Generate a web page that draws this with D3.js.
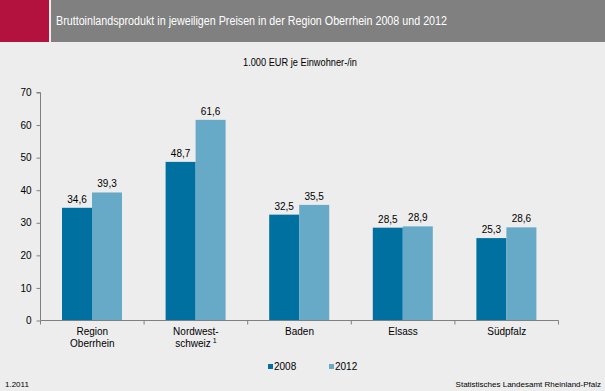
<!DOCTYPE html>
<html><head><meta charset="utf-8">
<script src="https://cdn.jsdelivr.net/npm/d3@7"></script>
<style>body{margin:0;background:#ededed;}svg{display:block;font-family:"Liberation Sans",Arial,sans-serif;}</style>
</head><body>
<svg id="c" width="605" height="391"></svg>
<script>
const categories = [["Region","Oberrhein"],["Nordwest-","schweiz"],["Baden"],["Elsass"],["Südpfalz"]];
const series = ["2008","2012"];
const values2008 = [34.6, 48.7, 32.5, 28.5, 25.3];
const values2012 = [39.3, 61.6, 35.5, 28.9, 28.6];
const yTicks = [0,10,20,30,40,50,60,70];
const colors = ["#0070a0","#66aac8"];

const svg = d3.select("#c");
svg.append("rect").attr("width",605).attr("height",391).attr("fill","#ededed");
// header
svg.append("rect").attr("x",0).attr("y",0).attr("width",605).attr("height",42).attr("fill","#808080");
svg.append("rect").attr("x",0).attr("y",0).attr("width",49).attr("height",42).attr("fill","#b4123e");
svg.append("rect").attr("x",49).attr("y",0).attr("width",2).attr("height",42).attr("fill","#ededed");
svg.append("text").attr("x",56).attr("y",25).attr("fill","#fff").attr("font-size",12)
  .attr("textLength",391).attr("lengthAdjust","spacingAndGlyphs")
  .text("Bruttoinlandsprodukt in jeweiligen Preisen in der Region Oberrhein 2008 und 2012");
svg.append("text").attr("x",243).attr("y",66).attr("fill","#000").attr("font-size",10)
  .attr("textLength",114).attr("lengthAdjust","spacingAndGlyphs")
  .text("1.000 EUR je Einwohner-/in");

const x0 = d3.scaleBand().domain(d3.range(categories.length)).range([40.5,558.5]).paddingInner(0).paddingOuter(0);
const x1 = d3.scaleBand().domain(series).range([21.5, 81.5]);
const y = d3.scaleLinear().domain([0,70]).range([320.5,92.5]);

const data = categories.map((c,i)=>({i, vals:[values2008[i], values2012[i]]}));
const g = svg.append("g");
const grp = g.selectAll("g.cat").data(data).join("g").attr("transform",d=>`translate(${x0(d.i)},0)`);
grp.selectAll("rect").data(d=>d.vals.map((v,k)=>({v,k}))).join("rect")
  .attr("x",d=>x1(series[d.k])).attr("width",x1.bandwidth())
  .attr("y",d=>y(d.v)).attr("height",d=>y(0)-y(d.v)).attr("fill",d=>colors[d.k]);
grp.selectAll("text.val").data(d=>d.vals.map((v,k)=>({v,k}))).join("text").attr("class","val")
  .attr("x",d=>x1(series[d.k])+x1.bandwidth()/2).attr("y",d=>y(d.v)-5)
  .attr("text-anchor","middle").attr("font-size",10).attr("fill","#000")
  .text(d=>d3.format(".1f")(d.v).replace(".",","));

// y axis
const yAxis = d3.axisLeft(y).tickValues(yTicks).tickSize(4).tickPadding(5);
const ya = svg.append("g").attr("transform","translate(40.5,0)").call(yAxis);
ya.select(".domain").attr("stroke","#808080").attr("d","M-4,92.5H0V320.5");
ya.selectAll(".tick line").attr("stroke","#808080");
ya.selectAll(".tick text").attr("font-size",10).attr("fill","#000").attr("font-family","Liberation Sans, Arial, sans-serif");

// x axis
const xa = svg.append("g").attr("transform","translate(0,320.5)");
xa.append("line").attr("x1",40.5).attr("x2",558.5).attr("stroke","#808080");
d3.range(categories.length+1).forEach(i=>{
  const xx = 40.5 + i*x0.step();
  xa.append("line").attr("x1",xx).attr("x2",xx).attr("y1",0).attr("y2",4).attr("stroke","#808080");
});
categories.forEach((c,i)=>{
  const cx = x0(i)+x0.bandwidth()/2;
  c.forEach((line,j)=>{
    const t = xa.append("text").attr("x",cx).attr("y",14.5+j*12).attr("text-anchor","middle").attr("font-size",10).attr("fill","#000").text(line);
    if(i===1 && j===1){ t.append("tspan").attr("dy",-4).attr("font-size",7).text(" 1"); }
  });
});

// legend
const leg = svg.append("g").attr("transform","translate(0,370)");
[[268,274],[329,335]].forEach((p,k)=>{
  leg.append("rect").attr("x",p[0]).attr("y",-6).attr("width",5).attr("height",5).attr("fill",colors[k]);
  leg.append("text").attr("x",p[1]).attr("y",0).attr("font-size",10).attr("fill","#000").text(series[k]);
});

// footer
svg.append("text").attr("x",5).attr("y",387).attr("font-size",8).attr("fill","#000").text("1.2011");
svg.append("text").attr("x",601).attr("y",387).attr("text-anchor","end").attr("font-size",8).attr("fill","#000").text("Statistisches Landesamt Rheinland-Pfalz");
</script>
</body></html>
